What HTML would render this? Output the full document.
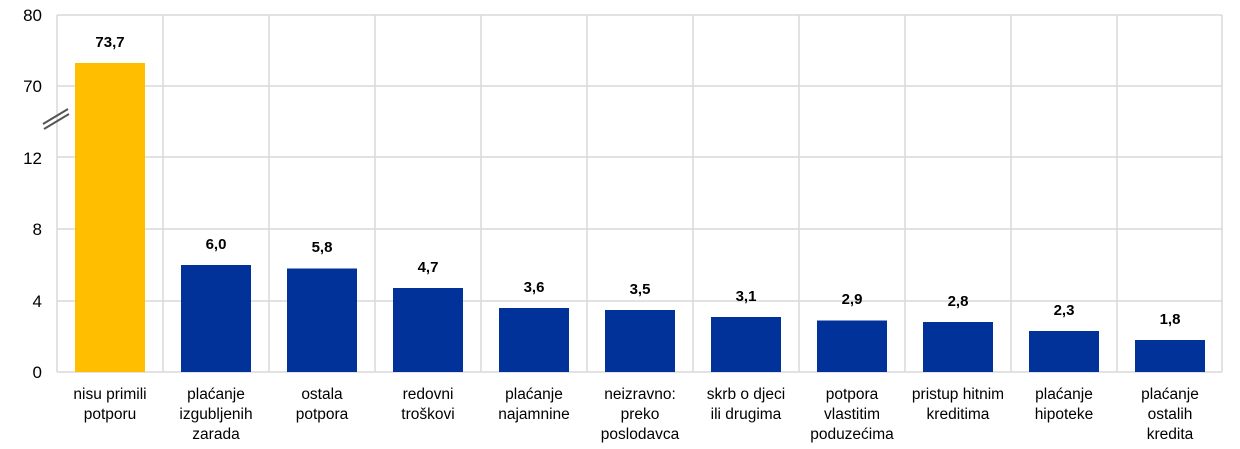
<!DOCTYPE html>
<html><head><meta charset="utf-8"><style>
html,body{margin:0;padding:0;background:#fff;}
svg{display:block;font-family:"Liberation Sans",Arial,sans-serif;}
</style></head><body>
<svg width="1240" height="449" viewBox="0 0 1240 449">
<g stroke="#d9d9d9" stroke-width="1.5">
<line x1="57" y1="15" x2="1222" y2="15"/>
<line x1="57" y1="86" x2="1222" y2="86"/>
<line x1="57" y1="157" x2="1222" y2="157"/>
<line x1="57" y1="229" x2="1222" y2="229"/>
<line x1="57" y1="301" x2="1222" y2="301"/>
<line x1="57" y1="372" x2="1222" y2="372"/>
<line x1="57" y1="15" x2="57" y2="372"/>
<line x1="163" y1="15" x2="163" y2="372"/>
<line x1="269" y1="15" x2="269" y2="372"/>
<line x1="375" y1="15" x2="375" y2="372"/>
<line x1="481" y1="15" x2="481" y2="372"/>
<line x1="587" y1="15" x2="587" y2="372"/>
<line x1="693" y1="15" x2="693" y2="372"/>
<line x1="799" y1="15" x2="799" y2="372"/>
<line x1="905" y1="15" x2="905" y2="372"/>
<line x1="1011" y1="15" x2="1011" y2="372"/>
<line x1="1117" y1="15" x2="1117" y2="372"/>
<line x1="1222" y1="15" x2="1222" y2="372"/>
</g>
<g stroke="#555" stroke-width="2">
<line x1="43" y1="124" x2="68" y2="109"/>
<line x1="44" y1="129" x2="69" y2="114"/>
</g>
<g font-size="17" text-anchor="end" fill="#000">
<text x="42" y="21">80</text>
<text x="42" y="92">70</text>
<text x="42" y="164">12</text>
<text x="42" y="235">8</text>
<text x="42" y="307">4</text>
<text x="42" y="378">0</text>
</g>
<rect x="75" y="63" width="70" height="309" fill="#ffbf00"/>
<g fill="#003299">
<rect x="181" y="265" width="70" height="107"/>
<rect x="287" y="268.5" width="70" height="103.5"/>
<rect x="393" y="288" width="70" height="84"/>
<rect x="499" y="308" width="70" height="64"/>
<rect x="605" y="310" width="70" height="62"/>
<rect x="711" y="317" width="70" height="55"/>
<rect x="817" y="320.5" width="70" height="51.5"/>
<rect x="923" y="322" width="70" height="50"/>
<rect x="1029" y="331" width="70" height="41"/>
<rect x="1135" y="340" width="70" height="32"/>
</g>
<g font-size="15" font-weight="bold" text-anchor="middle">
<text x="110" y="47">73,7</text>
<text x="216" y="249">6,0</text>
<text x="322" y="252">5,8</text>
<text x="428" y="272">4,7</text>
<text x="534" y="292">3,6</text>
<text x="640" y="294">3,5</text>
<text x="746" y="301">3,1</text>
<text x="852" y="304">2,9</text>
<text x="958" y="306">2,8</text>
<text x="1064" y="315">2,3</text>
<text x="1170" y="324">1,8</text>
</g>
<g font-size="15.5" text-anchor="middle">
<text x="110" y="399">nisu primili</text><text x="110" y="419">potporu</text>
<text x="216" y="399">plaćanje</text><text x="216" y="419">izgubljenih</text><text x="216" y="439">zarada</text>
<text x="322" y="399">ostala</text><text x="322" y="419">potpora</text>
<text x="428" y="399">redovni</text><text x="428" y="419">troškovi</text>
<text x="534" y="399">plaćanje</text><text x="534" y="419">najamnine</text>
<text x="640" y="399">neizravno:</text><text x="640" y="419">preko</text><text x="640" y="439">poslodavca</text>
<text x="746" y="399">skrb o djeci</text><text x="746" y="419">ili drugima</text>
<text x="852" y="399">potpora</text><text x="852" y="419">vlastitim</text><text x="852" y="439">poduzećima</text>
<text x="958" y="399">pristup hitnim</text><text x="958" y="419">kreditima</text>
<text x="1064" y="399">plaćanje</text><text x="1064" y="419">hipoteke</text>
<text x="1170" y="399">plaćanje</text><text x="1170" y="419">ostalih</text><text x="1170" y="439">kredita</text>
</g>
</svg>
</body></html>
